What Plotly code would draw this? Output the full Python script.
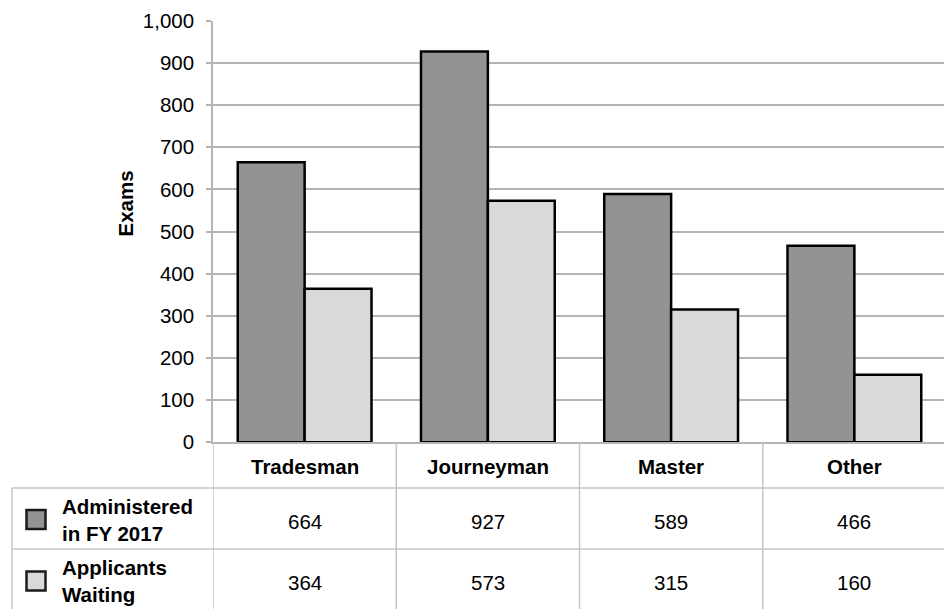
import plotly.graph_objects as go

# ---- data ----
categories = ["Tradesman", "Journeyman", "Master", "Other"]
series_names = ["Administered<br>in FY 2017", "Applicants<br>Waiting"]
administered = [664, 927, 589, 466]
waiting = [364, 573, 315, 160]
series_values = [administered, waiting]
y_ticks = [0, 100, 200, 300, 400, 500, 600, 700, 800, 900, 1000]
y_title = "Exams"

# ---- style ----
OFF = 8                      # page body margin of the browser
W, H = 952 - OFF, 609 - OFF  # figure size so that it fills the window exactly
FONT = "Liberation Sans, Arial, sans-serif"
FS = 20.5
colors = ["#939393", "#d9d9d9"]
grid = "#b5b5b5"
tline = "#c4c4c4"

def px(x):
    return (x - OFF) / W

def py(y):
    return 1 - (y - OFF) / H

plot_left, plot_right, plot_top, plot_bottom = 213, 946, 20.7, 442.3
row_lines = [488, 549]
row_centers = [519.5, 581]

fig = go.Figure()
for name, vals, col in zip(series_names, series_values, colors):
    fig.add_trace(go.Bar(
        x=categories, y=vals, name=name.replace("<br>", " "),
        marker=dict(color=col, line=dict(color="#000000", width=2.5)),
        showlegend=False,
    ))

shapes = []
annotations = []

# table vertical lines at category boundaries (through the x axis)
for b in [-0.5, 0.5, 1.5, 2.5, 3.5]:
    shapes.append(dict(type="line", xref="x", yref="paper", x0=b, x1=b,
                       y0=-0.02, y1=py(plot_bottom), line=dict(color=tline, width=1.5)))
# horizontal table lines
for yl in row_lines:
    shapes.append(dict(type="line", xref="paper", yref="paper", x0=px(12), x1=px(plot_right),
                       y0=py(yl), y1=py(yl), line=dict(color=tline, width=1.5)))
# left border of the series label column
shapes.append(dict(type="line", xref="paper", yref="paper", x0=px(12), x1=px(12),
                   y0=-0.02, y1=py(row_lines[0]), line=dict(color=tline, width=1.5)))

# header labels
for c in categories:
    annotations.append(dict(x=c, y=py(466.5), xref="x", yref="paper", text=f"<b>{c}</b>",
                            showarrow=False, font=dict(family=FONT, size=FS, color="#000"),
                            xanchor="center", yanchor="middle"))

# rows: legend keys, series names, values
for i, (name, vals, col) in enumerate(zip(series_names, series_values, colors)):
    yc = row_centers[i]
    shapes.append(dict(type="rect", xref="paper", yref="paper",
                       x0=px(26.5), x1=px(45.5), y0=py(yc - 9.5), y1=py(yc + 9.5),
                       fillcolor=col, line=dict(color="#1a1a1a", width=2.5)))
    annotations.append(dict(x=px(60), y=py(yc), xref="paper", yref="paper",
                            text=f"<b>{name}</b>", showarrow=False, align="left",
                            font=dict(family=FONT, size=FS, color="#000"),
                            xanchor="left", yanchor="middle"))
    for c, v in zip(categories, vals):
        annotations.append(dict(x=c, y=py(yc + 1.5), xref="x", yref="paper", text=f"{v:,}",
                                showarrow=False, font=dict(family=FONT, size=FS, color="#000"),
                                xanchor="center", yanchor="middle"))

# y axis title
annotations.append(dict(x=px(125), y=py(203.5), xref="paper", yref="paper",
                        text=f"<b>{y_title}</b>", textangle=-90, showarrow=False,
                        font=dict(family=FONT, size=FS, color="#000"),
                        xanchor="center", yanchor="middle"))

fig.update_layout(
    template="none",
    width=W, height=H, autosize=False,
    margin=dict(l=0, r=0, t=0, b=0, pad=0),
    paper_bgcolor="white", plot_bgcolor="white",
    barmode="group", bargap=0.27, bargroupgap=0,
    font=dict(family=FONT, size=FS, color="#000"),
    xaxis=dict(domain=[px(plot_left), px(plot_right)], range=[-0.5, 3.5],
               showticklabels=False, ticks="", showgrid=False, automargin=False,
               showline=True, linecolor=grid, linewidth=1.5, zeroline=False,
               fixedrange=True),
    yaxis=dict(domain=[py(plot_bottom), py(plot_top)], range=[0, 1000],
               tickvals=y_ticks, tickformat=",d", automargin=False,
               ticks="outside", ticklen=5, tickcolor=grid, tickwidth=1.5,
               ticklabelstandoff=8,
               showgrid=True, gridcolor=grid, gridwidth=1.5,
               showline=True, linecolor=grid, linewidth=1.5, zeroline=False,
               tickfont=dict(family=FONT, size=FS, color="#000"),
               fixedrange=True),
    shapes=shapes,
    annotations=annotations,
)

fig.write_html("out.html", config={"displayModeBar": False})
